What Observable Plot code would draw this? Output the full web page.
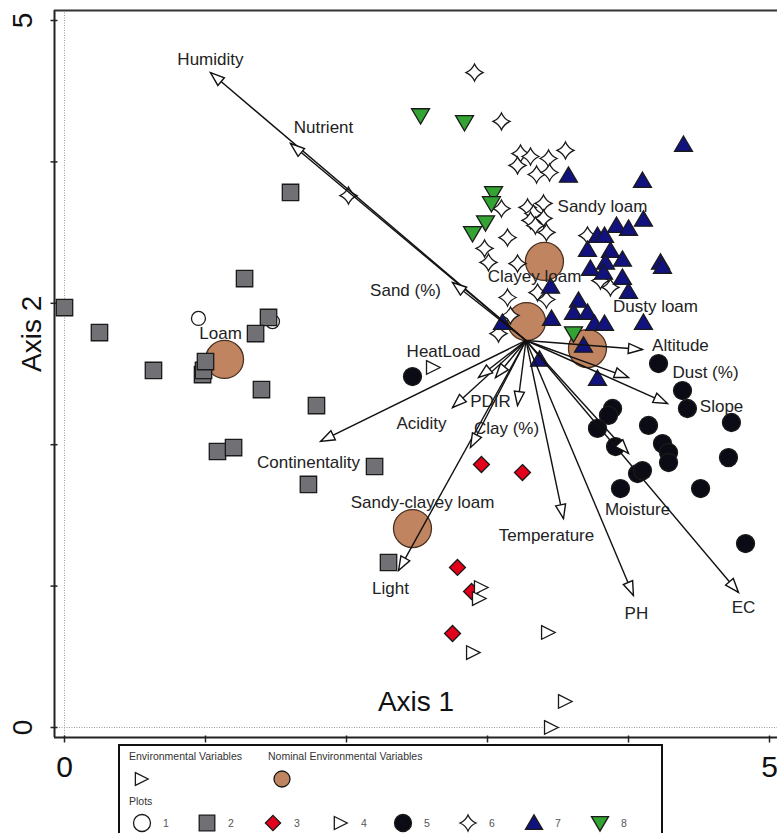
<!DOCTYPE html>
<html><head><meta charset="utf-8">
<script src="https://cdn.jsdelivr.net/npm/d3@7"></script>
<script src="https://cdn.jsdelivr.net/npm/@observablehq/plot@0.6"></script>
<style>
body{margin:0;background:#fff;overflow:hidden;font-family:"Liberation Sans",Arial,sans-serif}
#wrap{position:relative;width:777px;height:833px;overflow:hidden}
#legend{position:absolute;left:118px;top:744px}
</style></head><body><div id="wrap"><div id="chart"></div><div id="legend"></div></div>
<script>
// ---------- DATA ----------
const axisTicks = [0, 1, 2, 3, 4, 5];
const axisTickLabels = [0, 5];
const origin = [3.273, 2.737];

const envNames = ["Humidity","Nutrient","Sand (%)","HeatLoad","PDIR","Acidity","Clay (%)","","Continentality","Light","Temperature","Moisture","PH","EC","Altitude","Dust (%)","Slope"];
const envX = [1.035,1.603,2.752,2.936,3.057,2.752,3.213,2.879,1.816,2.369,3.539,4.000,4.035,4.780,4.099,4.000,4.277];
const envY = [4.632,4.130,3.147,2.475,2.475,2.263,2.277,1.980,2.023,1.110,1.478,1.938,0.934,0.955,2.673,2.475,2.291];

const nomNames = ["Loam","Sandy loam","Clayey loam","Dusty loam","Sandy-clayey loam"];
const nomX = [1.135,3.404,3.277,3.709,2.468];
const nomY = [2.603,3.296,2.871,2.680,1.407];

const plot1 = [[0.950,2.893],[1.475,2.871]];
const plot2 = [[1.603,3.784],[1.277,3.175],[0.000,2.970],[0.248,2.793],[1.447,2.900],[1.355,2.786],[0.631,2.525],[0.979,2.496],[0.986,2.525],[1.000,2.588],[1.397,2.390],[1.787,2.277],[1.085,1.952],[1.199,1.980],[2.199,1.846],[1.730,1.719],[2.298,1.167]];
const plot3 = [[2.957,1.860],[3.248,1.803],[2.787,1.132],[2.887,0.962],[2.752,0.665]];
const plot4 = [[2.610,2.546],[2.950,0.990],[2.936,0.912],[3.426,0.672],[2.894,0.530],[3.546,0.184],[3.447,0.000]];
const plot5 = [[2.468,2.482],[4.213,2.574],[4.383,2.383],[4.418,2.256],[4.730,2.157],[3.887,2.256],[3.858,2.207],[3.780,2.115],[4.142,2.136],[3.908,1.987],[4.241,2.008],[4.284,1.945],[4.284,1.874],[4.709,1.909],[4.064,1.796],[4.099,1.817],[3.943,1.690],[4.511,1.690],[4.830,1.301]];
const plot6 = [[2.908,4.632],[3.099,4.286],[3.234,4.059],[3.305,4.038],[3.213,3.975],[3.433,4.024],[3.553,4.081],[3.348,3.911],[3.440,3.925],[2.014,3.762],[3.099,3.670],[3.284,3.678],[3.397,3.706],[3.326,3.635],[3.305,3.586],[3.397,3.600],[3.340,3.550],[3.418,3.501],[3.142,3.465],[2.979,3.388],[3.007,3.289],[3.213,3.281],[3.709,3.479],[3.801,3.161],[3.872,3.112],[3.142,3.041],[3.355,3.076],[3.418,3.027],[3.163,2.914],[3.078,2.786]];
const plot7 = [[4.390,4.123],[3.574,3.904],[4.099,3.868],[3.915,3.550],[4.000,3.529],[4.106,3.593],[3.780,3.479],[3.830,3.479],[3.709,3.380],[3.872,3.373],[3.957,3.310],[4.227,3.289],[4.241,3.260],[3.837,3.289],[3.730,3.246],[3.823,3.218],[3.957,3.182],[3.447,3.119],[4.000,3.083],[3.645,3.020],[3.610,2.935],[3.709,2.935],[3.759,2.857],[3.830,2.857],[4.106,2.864],[3.454,2.892],[3.106,2.864],[3.681,2.702],[3.369,2.603],[3.780,2.468]];
const plot8 = [[2.525,4.328],[2.837,4.279],[3.043,3.777],[3.028,3.706],[2.986,3.571],[2.894,3.494],[3.610,2.786]];

// ---------- STYLE ----------
const envLabelOffset = [[0,-13],[33,-16],[-47,8],[-35,-26],[-5,24],[-31,16],[-11,23],[0,0],[-12,21],[-8,18],[-17,17],[9,56],[3,18],[5,15],[38,-4],[77,-5],[54,3]];
const nomLabelOffset = [[-4,-26],[58,-55],[8,-45],[68,-42],[10,-26]];
const FONT = "Liberation Sans, Arial, Helvetica, sans-serif";
const xDomain = [-10/141, 713/141];
const yDomain = [-10/141.4, 717/141.4];

const rad = s => Math.sqrt(s / Math.PI);
const symTriRight = {draw(c, s){const r = rad(s); c.moveTo(-0.75*r,-0.85*r); c.lineTo(0.95*r,0); c.lineTo(-0.75*r,0.85*r); c.closePath();}};
const symTriUp = {draw(c, s){const r = rad(s); c.moveTo(0,-0.95*r); c.lineTo(r,0.75*r); c.lineTo(-r,0.75*r); c.closePath();}};
const symTriDown = {draw(c, s){const r = rad(s); c.moveTo(0,0.95*r); c.lineTo(r,-0.75*r); c.lineTo(-r,-0.75*r); c.closePath();}};
const symDiamond = {draw(c, s){const r = rad(s); c.moveTo(0,-r); c.lineTo(r,0); c.lineTo(0,r); c.lineTo(-r,0); c.closePath();}};
const symSquare = {draw(c, s){const r = rad(s); c.moveTo(-r,-r); c.lineTo(r,-r); c.lineTo(r,r); c.lineTo(-r,r); c.closePath();}};
const symStar4 = {draw(c, s){const r = rad(s), k = 0.3*r; c.moveTo(0,-r); c.quadraticCurveTo(k,-k,r,0); c.quadraticCurveTo(k,k,0,r); c.quadraticCurveTo(-k,k,-r,0); c.quadraticCurveTo(-k,-k,0,-r); c.closePath();}};
const symHead = {draw(c, s){const r = rad(s); c.moveTo(0,0); c.lineTo(0.72*r,2*r); c.lineTo(-0.72*r,2*r); c.closePath();}};
const symVTick = {draw(c){c.moveTo(0,-2); c.lineTo(0,5);}};
const symHTick = {draw(c){c.moveTo(-4,0); c.lineTo(3,0);}};

const env = envNames.map((n,i) => ({name:n, x:envX[i], y:envY[i], dx:envLabelOffset[i][0], dy:envLabelOffset[i][1],
  ang: Math.atan2(envX[i]-origin[0], envY[i]-origin[1]) * 180 / Math.PI}));
const nom = nomNames.map((n,i) => ({name:n, x:nomX[i], y:nomY[i], dx:nomLabelOffset[i][0], dy:nomLabelOffset[i][1]}));

const groups = [
  {data: plot1, symbol: "circle", r: 7, fill: "#ffffff"},
  {data: plot2, symbol: symSquare, r: 8.2, fill: "#707075"},
  {data: plot3, symbol: symDiamond, r: 8, fill: "#e3001b"},
  {data: plot4, symbol: symTriRight, r: 8, fill: "#ffffff"},
  {data: plot5, symbol: "circle", r: 9, fill: "#0b0b16"},
  {data: plot6, symbol: symStar4, r: 8.5, fill: "#ffffff"},
  {data: plot7, symbol: symTriUp, r: 9, fill: "#12127e"},
  {data: plot8, symbol: symTriDown, r: 9, fill: "#33a334"}
];

const labelText = d => Plot.text([d], {x: "x", y: "y", text: "name", dx: d.dx, dy: d.dy, fontSize: 17, fill: "#222", fontFamily: FONT});

const marks = [
  Plot.ruleX([0], {stroke: "#9a9a9a", strokeWidth: 1, strokeDasharray: "1,1.5"}),
  Plot.ruleY([0], {stroke: "#9a9a9a", strokeWidth: 1, strokeDasharray: "1,1.5"}),
  Plot.ruleX([xDomain[0]], {stroke: "#222", strokeWidth: 2}),
  Plot.ruleY([yDomain[0]], {stroke: "#222", strokeWidth: 2}),
  Plot.ruleY([yDomain[1]], {stroke: "#333", strokeWidth: 2}),
  Plot.dot(axisTicks, {x: d => d, y: yDomain[0], symbol: symVTick, stroke: "#222", strokeWidth: 1.5}),
  Plot.dot(axisTicks, {x: xDomain[0], y: d => d, symbol: symHTick, stroke: "#222", strokeWidth: 1.5}),
  Plot.text(axisTickLabels, {x: d => d, y: yDomain[0], text: d => String(d), dy: 30, fontSize: 30, fill: "#111", fontFamily: FONT}),
  Plot.text(axisTickLabels, {x: xDomain[0], y: d => d, text: d => String(d), dx: -31, rotate: -90, fontSize: 28, fill: "#111", fontFamily: FONT}),
  Plot.text(["Axis 2"], {frameAnchor: "left", dx: -22, dy: -2, rotate: -90, fontSize: 28, fill: "#111", fontFamily: FONT}),
  Plot.text(["Axis 1"], {frameAnchor: "bottom", dy: -27, fontSize: 28, fill: "#111", fontFamily: FONT}),
  Plot.dot(nom, {x: "x", y: "y", r: 19, fill: "#c08560", stroke: "#4a3020", strokeWidth: 1.3}),
  ...groups.map(g => Plot.dot(g.data, {x: d => d[0], y: d => d[1], symbol: g.symbol, r: g.r, fill: g.fill, stroke: "#1a1a1a", strokeWidth: 1.3})),
  Plot.link(env, {x1: origin[0], y1: origin[1], x2: "x", y2: "y", stroke: "#111", strokeWidth: 1.4}),
  Plot.dot(env, {x: "x", y: "y", symbol: symHead, r: 7, rotate: "ang", fill: "#fff", stroke: "#111", strokeWidth: 1.4}),
  ...env.filter(d => d.name).map(labelText),
  ...nom.map(labelText)
];

const chart = Plot.plot({
  width: 777, height: 833,
  marginLeft: 54, marginRight: 0, marginTop: 10, marginBottom: 96,
  x: {domain: xDomain, axis: null},
  y: {domain: yDomain, axis: null},
  style: {fontFamily: FONT, background: "#fff", overflow: "visible"},
  marks
});
document.getElementById("chart").appendChild(chart);

// ---------- LEGEND ----------
const legendItems = ["1","2","3","4","5","6","7","8"];
const lg = d3.select("#legend").append("svg").attr("width", 545).attr("height", 89).style("display","block");
lg.append("rect").attr("x",1).attr("y",1).attr("width",543).attr("height",110).attr("fill","#fff").attr("stroke","#111").attr("stroke-width",2);
const ltext = (t, x, y, size, fill) => lg.append("text").attr("x",x).attr("y",y).attr("font-size",size).attr("fill",fill).attr("font-family",FONT).attr("dominant-baseline","middle").text(t);
ltext("Environmental Variables", 11, 13, 10.5, "#333");
ltext("Nominal Environmental Variables", 150, 13, 10.5, "#333");
ltext("Plots", 11, 58, 10.5, "#333");
const lsym = (type, r, x, y, fill) => lg.append("path").attr("d", d3.symbol().type(type).size(Math.PI*r*r)()).attr("transform",`translate(${x},${y})`).attr("fill",fill).attr("stroke","#1a1a1a").attr("stroke-width",1.3);
lsym(symTriRight, 7.5, 23, 35, "#fff");
lsym(d3.symbolCircle, 8, 164, 35, "#c08560");
const lx = [24, 89, 155, 222, 285, 350, 416, 482];
groups.forEach((g, i) => {
  const t = g.symbol === "circle" ? d3.symbolCircle : g.symbol;
  lsym(t, g.symbol === "circle" ? 8.5 : g.r * 0.95, lx[i], 79, g.fill);
  ltext(legendItems[i], lx[i] + 21, 80, 10.5, "#555");
});
</script></body></html>
